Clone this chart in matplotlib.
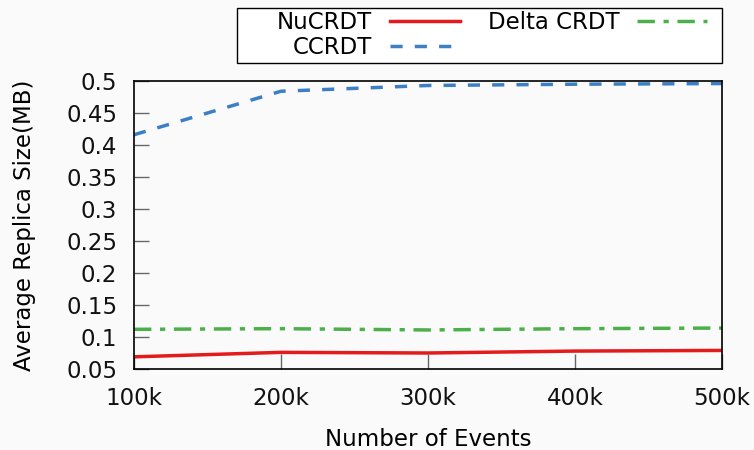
import matplotlib
matplotlib.use("Agg")
import matplotlib.pyplot as plt
from matplotlib.patches import Rectangle

events = [100, 200, 300, 400, 500]
xtick_labels = ["100k", "200k", "300k", "400k", "500k"]
nucrdt = [0.069, 0.076, 0.075, 0.078, 0.079]
ccrdt = [0.416, 0.484, 0.493, 0.495, 0.496]
delta = [0.112, 0.113, 0.111, 0.113, 0.114]

plt.rcParams["font.family"] = "DejaVu Sans"
plt.rcParams["font.size"] = 16.5

W, H = 754, 450
fig = plt.figure(figsize=(W / 100, H / 100), dpi=100, facecolor="#fafafa")
ax = fig.add_axes([134 / W, 1 - 369 / H, (722 - 134) / W, (369 - 81) / H])
ax.set_facecolor("#fafafa")

ax.plot(events, nucrdt, color="#e41a1c", lw=2.5, label="NuCRDT")
ax.plot(events, ccrdt, color="#3d7fc4", lw=2.5, dashes=(3.5, 3.5), label="CCRDT")
ax.plot(events, delta, color="#4daf4a", lw=2.5, dashes=(5, 2.5, 1.5, 2.5), label="Delta CRDT")

ax.set_xlim(100, 500)
ax.set_ylim(0.05, 0.5)
ax.set_xticks(events)
ax.set_xticklabels(xtick_labels)
ax.set_yticks([0.05, 0.1, 0.15, 0.2, 0.25, 0.3, 0.35, 0.4, 0.45, 0.5])
ax.set_yticklabels(["0.05", "0.1", "0.15", "0.2", "0.25", "0.3", "0.35", "0.4", "0.45", "0.5"])
ax.tick_params(direction="in", length=11, width=1, colors="#666666", labelcolor="#111111")
ax.tick_params(axis="y", pad=12)
ax.tick_params(axis="x", pad=13)
for s in ax.spines.values():
    s.set_linewidth(1.2)

ax.set_xlabel("Number of Events", labelpad=13)
ax.set_ylabel("Average Replica Size(MB)", labelpad=22)

# legend frame drawn separately (gnuplot-style wide key box)
fig.patches.append(Rectangle((237 / W, 1 - 63 / H), (722 - 237) / W, (63 - 8) / H,
                             transform=fig.transFigure, facecolor="white",
                             edgecolor="black", lw=1.0, zorder=0))
handles, labels = ax.get_legend_handles_labels()
leg = fig.legend(handles, labels,
                 ncol=2, markerfirst=False, loc="upper right",
                 bbox_to_anchor=(707 / W, 1 - 11 / H),
                 frameon=False, handlelength=3.05, handletextpad=0.78,
                 labelspacing=0.1, columnspacing=1.2, borderpad=0,
                 borderaxespad=0, fontsize=16.5)

fig.savefig("out.png", dpi=100, facecolor=fig.get_facecolor())
